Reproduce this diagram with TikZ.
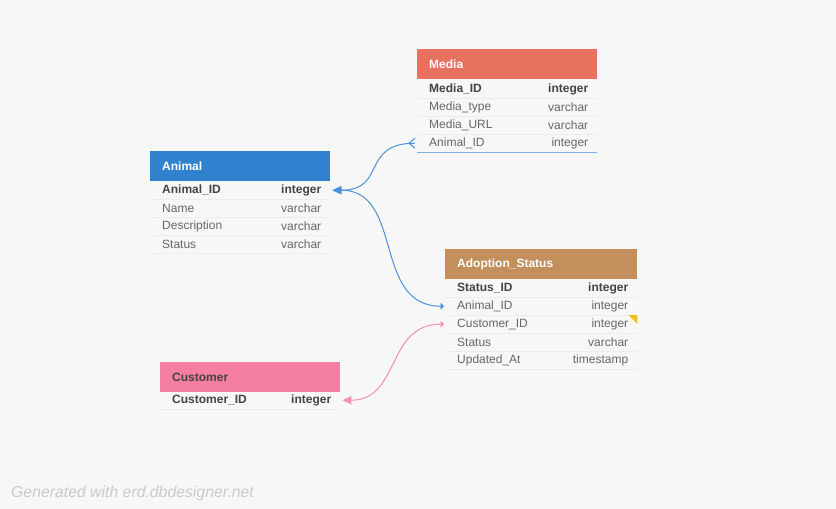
\documentclass[tikz,border=0pt]{standalone}
\usepackage{fontspec}
\setmainfont{Liberation Sans}
\usetikzlibrary{arrows.meta}
\definecolor{bg}{HTML}{F7F7F7}
\definecolor{mediaC}{HTML}{E8705F}
\definecolor{animalC}{HTML}{3182CE}
\definecolor{adoptC}{HTML}{C3905D}
\definecolor{custC}{HTML}{F47FA1}
\definecolor{sepC}{HTML}{ECECEC}
\definecolor{pkC}{HTML}{444444}
\definecolor{txtC}{HTML}{666666}
\definecolor{blueL}{HTML}{4A90D9}
\definecolor{blueFK}{HTML}{7FB0E4}
\definecolor{pinkL}{HTML}{F48FB1}
\definecolor{yelC}{HTML}{F2C014}
\definecolor{footC}{HTML}{CACACA}
\tikzset{
  hdr/.style={draw=none, minimum height=30pt, inner sep=0pt, anchor=north west},
  rowbox/.style={draw=none, minimum width=#1, minimum height=18pt, inner sep=0pt, anchor=north west},
  hdrtxt/.style={anchor=west, font=\bfseries\fontsize{12}{14}\selectfont, text=white, inner sep=0pt},
  pk/.style={font=\bfseries\fontsize{12}{14}\selectfont, text=pkC, inner sep=0pt},
  fld/.style={font=\fontsize{12}{14}\selectfont, text=txtC, inner sep=0pt},
  sep/.style={draw=sepC, line width=0.8pt},
  relB/.style={draw=blueL, line width=1pt},
  relP/.style={draw=pinkL, line width=1pt},
}
\begin{document}
\begin{tikzpicture}[x=1pt,y=-1pt]
\useasboundingbox (0,0) rectangle (836,509);
\fill[bg] (0,0) rectangle (836,509);

% ---------- Media ----------
\node[hdr, fill=mediaC, minimum width=180pt] (media) at (417,49) {};
\node[hdrtxt] at ([xshift=12pt]media.west) {Media};
\node[rowbox=180pt] (m1) at (417,80) {};
\node[rowbox=180pt] (m2) at (417,98) {};
\node[rowbox=180pt] (m3) at (417,116) {};
\node[rowbox=180pt] (m4) at (417,134) {};
\node[pk, anchor=west] at ([xshift=12pt]m1.west) {Media\_ID};
\node[pk, anchor=east] at ([xshift=-9pt]m1.east) {integer};
\node[fld, anchor=west] at ([xshift=12pt]m2.west) {Media\_type};
\node[fld, anchor=east] at ([xshift=-9pt]m2.east) {varchar};
\node[fld, anchor=west] at ([xshift=12pt]m3.west) {Media\_URL};
\node[fld, anchor=east] at ([xshift=-9pt]m3.east) {varchar};
\node[fld, anchor=west] at ([xshift=12pt]m4.west) {Animal\_ID};
\node[fld, anchor=east] at ([xshift=-9pt]m4.east) {integer};
\draw[sep] (m1.south west) -- (m1.south east);
\draw[sep] (m2.south west) -- (m2.south east);
\draw[sep] (m3.south west) -- (m3.south east);
\draw[draw=blueFK, line width=1pt] (m4.south west) -- (m4.south east);

% ---------- Animal ----------
\node[hdr, fill=animalC, minimum width=180pt] (animal) at (150,151) {};
\node[hdrtxt] at ([xshift=12pt]animal.west) {Animal};
\node[rowbox=180pt] (a1) at (150,181) {};
\node[rowbox=180pt] (a2) at (150,199) {};
\node[rowbox=180pt] (a3) at (150,217) {};
\node[rowbox=180pt] (a4) at (150,235) {};
\node[pk, anchor=west] at ([xshift=12pt]a1.west) {Animal\_ID};
\node[pk, anchor=east] at ([xshift=-9pt]a1.east) {integer};
\node[fld, anchor=west] at ([xshift=12pt]a2.west) {Name};
\node[fld, anchor=east] at ([xshift=-9pt]a2.east) {varchar};
\node[fld, anchor=west] at ([xshift=12pt]a3.west) {Description};
\node[fld, anchor=east] at ([xshift=-9pt]a3.east) {varchar};
\node[fld, anchor=west] at ([xshift=12pt]a4.west) {Status};
\node[fld, anchor=east] at ([xshift=-9pt]a4.east) {varchar};
\foreach \r in {a1,a2,a3,a4} \draw[sep] (\r.south west) -- (\r.south east);

% ---------- Adoption_Status ----------
\node[hdr, fill=adoptC, minimum width=192pt] (adopt) at (445,249) {};
\node[hdrtxt] at ([xshift=12pt]adopt.west) {Adoption\_Status};
\node[rowbox=192pt] (s1) at (445,279) {};
\node[rowbox=192pt] (s2) at (445,297) {};
\node[rowbox=192pt] (s3) at (445,315) {};
\node[rowbox=192pt] (s4) at (445,333) {};
\node[rowbox=192pt] (s5) at (445,351) {};
\node[pk, anchor=west] at ([xshift=12pt]s1.west) {Status\_ID};
\node[pk, anchor=east] at ([xshift=-9pt]s1.east) {integer};
\node[fld, anchor=west] at ([xshift=12pt]s2.west) {Animal\_ID};
\node[fld, anchor=east] at ([xshift=-9pt]s2.east) {integer};
\node[fld, anchor=west] at ([xshift=12pt]s3.west) {Customer\_ID};
\node[fld, anchor=east] at ([xshift=-9pt]s3.east) {integer};
\node[fld, anchor=west] at ([xshift=12pt]s4.west) {Status};
\node[fld, anchor=east] at ([xshift=-9pt]s4.east) {varchar};
\node[fld, anchor=west] at ([xshift=12pt]s5.west) {Updated\_At};
\node[fld, anchor=east] at ([xshift=-9pt]s5.east) {timestamp};
\foreach \r in {s1,s2,s3,s4,s5} \draw[sep] (\r.south west) -- (\r.south east);
\fill[yelC] ([xshift=-9pt]s3.north east) -- (s3.north east) -- ([yshift=-9pt]s3.north east) -- cycle;

% ---------- Customer ----------
\node[hdr, fill=custC, minimum width=180pt] (cust) at (160,362) {};
\node[hdrtxt, text=pkC] at ([xshift=12pt]cust.west) {Customer};
\node[rowbox=180pt] (c1) at (160,391) {};
\node[pk, anchor=west] at ([xshift=12pt]c1.west) {Customer\_ID};
\node[pk, anchor=east] at ([xshift=-9pt]c1.east) {integer};
\draw[sep] (c1.south west) -- (c1.south east);

% ---------- Relations ----------
% Media.Animal_ID -> Animal.Animal_ID
\draw[relB, -{Triangle[width=8pt,length=9pt]}]
  ([xshift=-2pt]m4.west) .. controls +(-55,0) and +(55,0) .. ([xshift=2pt]a1.east);
\draw[relB] ([xshift=-2pt,yshift=5pt]m4.west) -- ([xshift=-8pt]m4.west) -- ([xshift=-2pt,yshift=-5pt]m4.west);
% Adoption_Status.Animal_ID -> Animal.Animal_ID
\draw[relB, {Triangle[width=8pt,length=9pt]}-{Triangle[width=7pt,length=3.5pt]}]
  ([xshift=2pt]a1.east) .. controls +(72,0) and +(-72,0) .. ([xshift=-1pt]s2.west);
% Adoption_Status.Customer_ID -> Customer.Customer_ID
\draw[relP, {Triangle[width=7pt,length=3.5pt]}-{Triangle[width=8pt,length=9pt]}]
  ([xshift=-1pt]s3.west) .. controls +(-58,0) and +(58,0) .. ([xshift=2pt]c1.east);

% ---------- Footer ----------
\node[anchor=west, inner sep=0pt, text=footC, font=\itshape\fontsize{15.8}{18}\selectfont] (foot) at (11,493) {Generated with erd.dbdesigner.net};
\end{tikzpicture}
\end{document}
